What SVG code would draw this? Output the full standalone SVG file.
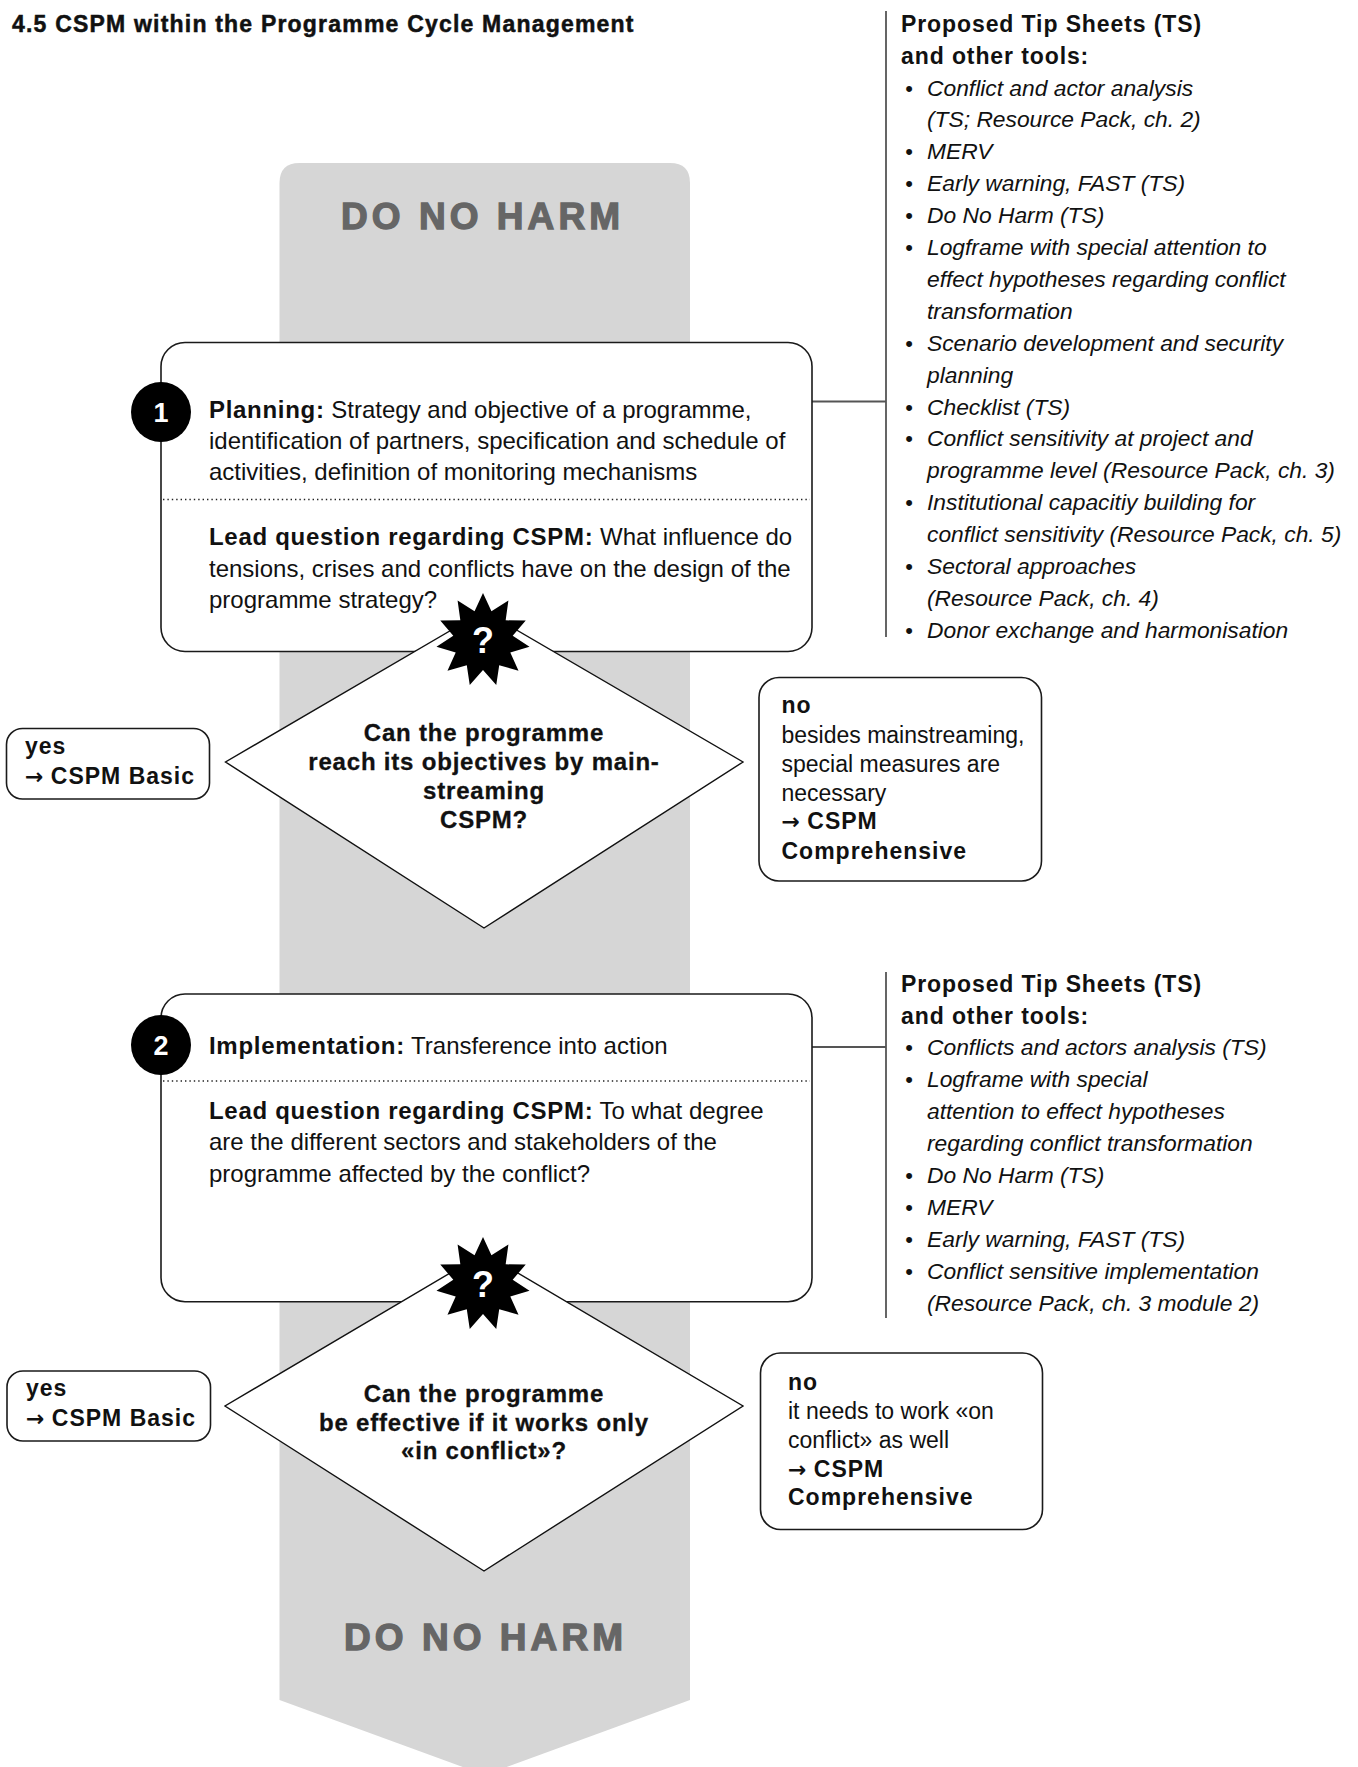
<svg xmlns="http://www.w3.org/2000/svg" xmlns:xlink="http://www.w3.org/1999/xlink" width="1358" height="1767" viewBox="0 0 1358 1767">
<style>
  text { font-family: "Liberation Sans", Arial, sans-serif; fill: #111; }
  .title { font-size: 23px; font-weight: bold; letter-spacing: 1.2px; stroke: #111; stroke-width: 0.5px; }
  .band { font-size: 37px; font-weight: bold; fill: #666; stroke: #666; stroke-width: 1.3px; }
  .body { font-size: 24px; }
  .b { font-weight: bold; letter-spacing: 0.7px; }
  .dia { font-size: 24px; font-weight: bold; letter-spacing: 0.8px; text-anchor: middle; stroke: #111; stroke-width: 0.3px; }
  .small { font-size: 23px; }
  .sb { font-weight: bold; letter-spacing: 1px; }
  .arr { font-family: "DejaVu Sans", sans-serif; font-weight: bold; font-size: 22px; letter-spacing: 0; }
  .head { font-size: 23px; font-weight: bold; letter-spacing: 0.9px; }
  .it { font-size: 22.8px; font-style: italic; }
  .bul { font-size: 22px; text-anchor: middle; }
  .num { font-size: 27px; font-weight: bold; fill: #fff; text-anchor: middle; }
  .q { font-size: 36px; font-weight: bold; fill: #fff; text-anchor: middle; }
  .box { fill: #fff; stroke: #1a1a1a; stroke-width: 1.6; }
  .diamond { fill: #fff; stroke: #111; stroke-width: 1.4; }
  .dots { stroke: #222; stroke-width: 1.7; stroke-dasharray: 1.4 3; fill: none; }
  .conn { stroke: #555; stroke-width: 1.8; fill: none; }
</style>
<defs>
  <polygon id="burst" points="0,-47 8.45,-28.79 25.41,-39.54 22.67,-19.65 42.75,-19.52 29.69,-4.27 46.52,6.69 27.29,12.46 35.52,30.78 16.22,25.24 13.24,45.1 0,30 -13.24,45.1 -16.22,25.24 -35.52,30.78 -27.29,12.46 -46.52,6.69 -29.69,-4.27 -42.75,-19.52 -22.67,-19.65 -25.41,-39.54 -8.45,-28.79" fill="#000"/>
</defs>

<rect width="1358" height="1767" fill="#fff"/>

<g id="title">
  <text class="title" x="12" y="31.5">4.5 CSPM within the Programme Cycle Management</text>
</g>

<g id="do-no-harm-band">
  <path d="M279.5,1700 L279.5,183 Q279.5,163 299.5,163 L670,163 Q690,163 690,183 L690,1700 L484.7,1775 Z" fill="#d6d6d6"/>
  <text class="band" x="341" y="228.5" textLength="279" lengthAdjust="spacing">DO NO HARM</text>
  <text class="band" x="344" y="1650" textLength="279" lengthAdjust="spacing">DO NO HARM</text>
</g>

<g id="connectors">
  <line class="conn" x1="812" y1="401.5" x2="886" y2="401.5"/>
  <line class="conn" x1="886" y1="11" x2="886" y2="637"/>
  <line class="conn" x1="812" y1="1047" x2="886" y2="1047"/>
  <line class="conn" x1="886" y1="972" x2="886" y2="1318"/>
</g>

<g id="planning">
  <rect class="box" x="161" y="342.5" width="651" height="309" rx="24"/>
  <line class="dots" x1="163" y1="499.5" x2="810" y2="499.5"/>
  <circle cx="161" cy="412" r="30" fill="#000"/>
  <text class="num" x="161" y="421.5">1</text>
  <text class="body" x="209" y="417.5"><tspan class="b">Planning:</tspan> Strategy and objective of a programme,</text>
  <text class="body" x="209" y="448.5">identification of partners, specification and schedule of</text>
  <text class="body" x="209" y="479.5">activities, definition of monitoring mechanisms</text>
  <text class="body" x="209" y="545"><tspan class="b">Lead question regarding CSPM:</tspan> What influence do</text>
  <text class="body" x="209" y="576.5">tensions, crises and conflicts have on the design of the</text>
  <text class="body" x="209" y="608">programme strategy?</text>
</g>

<g id="decision-1">
  <polygon class="diamond" points="484,611 743,762 484,928 225.5,762"/>
  <use href="#burst" xlink:href="#burst" x="483" y="640"/>
  <text class="q" x="483" y="653">?</text>
  <text class="dia" x="484" y="741">Can the programme</text>
  <text class="dia" x="484" y="770">reach its objectives by main-</text>
  <text class="dia" x="484" y="799">streaming</text>
  <text class="dia" x="484" y="828">CSPM?</text>
</g>

<g id="yes-1">
  <rect class="box" x="6.5" y="728.5" width="203" height="70.5" rx="16"/>
  <text class="small sb" x="25" y="753.5">yes</text>
  <text class="small sb" x="25" y="783.5"><tspan class="arr">→</tspan> CSPM Basic</text>
</g>

<g id="no-1">
  <rect class="box" x="759" y="677.5" width="282.5" height="203.5" rx="20"/>
  <text class="small sb" x="781.5" y="713">no</text>
  <text class="small" x="781.5" y="742.5">besides mainstreaming,</text>
  <text class="small" x="781.5" y="771.5">special measures are</text>
  <text class="small" x="781.5" y="800.5">necessary</text>
  <text class="small sb" x="781.5" y="829"><tspan class="arr">→</tspan> CSPM</text>
  <text class="small sb" x="781.5" y="858.5">Comprehensive</text>
</g>

<g id="tools-1">
  <text class="head" x="901" y="31.7">Proposed Tip Sheets (TS)</text>
  <text class="head" x="901" y="63.6">and other tools:</text>
  <text class="bul" x="909" y="95.5">•</text>
  <text class="bul" x="909" y="159.3">•</text>
  <text class="bul" x="909" y="191.2">•</text>
  <text class="bul" x="909" y="223.1">•</text>
  <text class="bul" x="909" y="255">•</text>
  <text class="bul" x="909" y="350.7">•</text>
  <text class="bul" x="909" y="414.5">•</text>
  <text class="bul" x="909" y="446.4">•</text>
  <text class="bul" x="909" y="510.2">•</text>
  <text class="bul" x="909" y="574">•</text>
  <text class="bul" x="909" y="637.8">•</text>
  <text class="it" x="927" y="95.5">Conflict and actor analysis</text>
  <text class="it" x="927" y="127.4">(TS; Resource Pack, ch. 2)</text>
  <text class="it" x="927" y="159.3">MERV</text>
  <text class="it" x="927" y="191.2">Early warning, FAST (TS)</text>
  <text class="it" x="927" y="223.1">Do No Harm (TS)</text>
  <text class="it" x="927" y="255">Logframe with special attention to</text>
  <text class="it" x="927" y="286.9">effect hypotheses regarding conflict</text>
  <text class="it" x="927" y="318.8">transformation</text>
  <text class="it" x="927" y="350.7">Scenario development and security</text>
  <text class="it" x="927" y="382.6">planning</text>
  <text class="it" x="927" y="414.5">Checklist (TS)</text>
  <text class="it" x="927" y="446.4">Conflict sensitivity at project and</text>
  <text class="it" x="927" y="478.3">programme level (Resource Pack, ch. 3)</text>
  <text class="it" x="927" y="510.2">Institutional capacitiy building for</text>
  <text class="it" x="927" y="542.1">conflict sensitivity (Resource Pack, ch. 5)</text>
  <text class="it" x="927" y="574">Sectoral approaches</text>
  <text class="it" x="927" y="605.9">(Resource Pack, ch. 4)</text>
  <text class="it" x="927" y="637.8">Donor exchange and harmonisation</text>
</g>

<g id="implementation">
  <rect class="box" x="161" y="994" width="651" height="307.7" rx="24"/>
  <line class="dots" x1="163" y1="1081" x2="810" y2="1081"/>
  <circle cx="161" cy="1045" r="30" fill="#000"/>
  <text class="num" x="161" y="1054.5">2</text>
  <text class="body" x="209" y="1054"><tspan class="b">Implementation:</tspan> Transference into action</text>
  <text class="body" x="209" y="1118.5"><tspan class="b">Lead question regarding CSPM:</tspan> To what degree</text>
  <text class="body" x="209" y="1150">are the different sectors and stakeholders of the</text>
  <text class="body" x="209" y="1181.5">programme affected by the conflict?</text>
</g>

<g id="decision-2">
  <polygon class="diamond" points="484,1253 743,1406 484,1571 225,1406"/>
  <use href="#burst" xlink:href="#burst" x="483" y="1284"/>
  <text class="q" x="483" y="1297">?</text>
  <text class="dia" x="484" y="1402">Can the programme</text>
  <text class="dia" x="484" y="1430.5">be effective if it works only</text>
  <text class="dia" x="484" y="1459">«in conflict»?</text>
</g>

<g id="yes-2">
  <rect class="box" x="7" y="1371" width="203.5" height="70" rx="16"/>
  <text class="small sb" x="26" y="1396">yes</text>
  <text class="small sb" x="26" y="1426"><tspan class="arr">→</tspan> CSPM Basic</text>
</g>

<g id="no-2">
  <rect class="box" x="760.5" y="1353" width="282" height="176.5" rx="20"/>
  <text class="small sb" x="788" y="1389.5">no</text>
  <text class="small" x="788" y="1419">it needs to work «on</text>
  <text class="small" x="788" y="1447.5">conflict» as well</text>
  <text class="small sb" x="788" y="1476.5"><tspan class="arr">→</tspan> CSPM</text>
  <text class="small sb" x="788" y="1505">Comprehensive</text>
</g>

<g id="tools-2">
  <text class="head" x="901" y="991.5">Proposed Tip Sheets (TS)</text>
  <text class="head" x="901" y="1023.5">and other tools:</text>
  <text class="bul" x="909" y="1055.4">•</text>
  <text class="bul" x="909" y="1087.4">•</text>
  <text class="bul" x="909" y="1183.2">•</text>
  <text class="bul" x="909" y="1215.2">•</text>
  <text class="bul" x="909" y="1247.1">•</text>
  <text class="bul" x="909" y="1279.1">•</text>
  <text class="it" x="927" y="1055.4">Conflicts and actors analysis (TS)</text>
  <text class="it" x="927" y="1087.4">Logframe with special</text>
  <text class="it" x="927" y="1119.3">attention to effect hypotheses</text>
  <text class="it" x="927" y="1151.3">regarding conflict transformation</text>
  <text class="it" x="927" y="1183.2">Do No Harm (TS)</text>
  <text class="it" x="927" y="1215.2">MERV</text>
  <text class="it" x="927" y="1247.1">Early warning, FAST (TS)</text>
  <text class="it" x="927" y="1279.1">Conflict sensitive implementation</text>
  <text class="it" x="927" y="1311">(Resource Pack, ch. 3 module 2)</text>
</g>
</svg>
